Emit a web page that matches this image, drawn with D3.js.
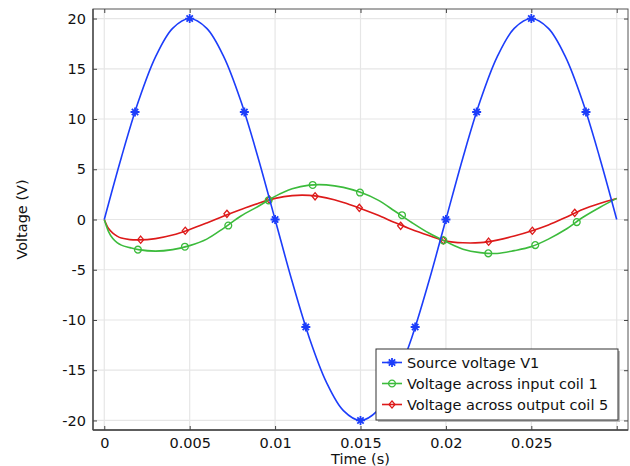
<!DOCTYPE html>
<html><head><meta charset="utf-8">
<script src="https://cdn.jsdelivr.net/npm/d3@7"></script>
<style>
html,body{margin:0;padding:0;background:#fff;}
svg{display:block;font-family:"DejaVu Sans",sans-serif;}
</style></head>
<body><svg id="chart" width="630" height="466"></svg>
<script>
// ---- data ----
const timeSource = [0,0.001,0.002,0.003,0.004,0.005,0.006,0.007,0.008,0.009,0.010,0.011,0.012,0.013,0.014,0.015,0.016,0.017,0.018,0.019,0.020,0.021,0.022,0.023,0.024,0.025,0.026,0.027,0.028,0.029,0.030];
const sourceVoltage = [0,6.18,11.76,16.18,19.02,20,19.02,16.18,11.76,6.18,0,-6.18,-11.76,-16.18,-19.02,-20,-19.02,-16.18,-11.76,-6.18,0,6.18,11.76,16.18,19.02,20,19.02,16.18,11.76,6.18,0];

const timeCoil = [0,0.00025,0.0005,0.00075,0.001,0.0015,0.002,0.003,0.004,0.005,0.006,0.007,0.008,0.009,0.010,0.011,0.012,0.013,0.014,0.015,0.016,0.017,0.018,0.019,0.020,0.021,0.022,0.023,0.024,0.025,0.026,0.027,0.028,0.029,0.030];
const inputCoil = [0,-1.2,-1.9,-2.3,-2.55,-2.8,-3.0,-3.15,-3.0,-2.6,-1.95,-0.85,0.35,1.3,2.3,3.05,3.42,3.45,3.2,2.7,1.95,0.85,-0.3,-1.35,-2.2,-2.95,-3.3,-3.38,-3.1,-2.7,-1.95,-1.0,0.2,1.2,2.1];
const outputCoil = [0,-0.9,-1.35,-1.65,-1.85,-2.0,-2.03,-1.9,-1.55,-1.0,-0.35,0.35,1.0,1.6,2.1,2.38,2.4,2.15,1.7,1.1,0.45,-0.3,-1.0,-1.6,-2.15,-2.32,-2.3,-2.05,-1.65,-1.15,-0.55,0.2,1.0,1.6,2.1];

// marker positions
const sourceMarkT = [0.0018,0.005,0.0082,0.01,0.0118,0.015,0.0182,0.02,0.0218,0.025,0.0282];
const sourceMarkV = [10.7,20,10.7,0,-10.7,-20,-10.7,0,10.7,20,10.7];
const inputMarkT = [0.00197,0.00472,0.00726,0.00962,0.0122,0.01497,0.01743,0.01985,0.02248,0.02523,0.02766];
const inputMarkV = [-3.0,-2.71,-0.6,1.9,3.44,2.68,0.43,-2.08,-3.37,-2.55,-0.26];
const outputMarkT = [0.00213,0.00474,0.00718,0.00966,0.01234,0.01493,0.01735,0.01985,0.0225,0.02506,0.02754];
const outputMarkV = [-2.01,-1.12,0.56,1.98,2.31,1.16,-0.63,-2.08,-2.21,-1.12,0.66];

const seriesNames = ["Source voltage V1","Voltage across input coil 1","Voltage across output coil 5"];
const xTicks = [0,0.005,0.01,0.015,0.02,0.025,0.03];
const xTickLabels = ["0","0.005","0.01","0.015","0.02","0.025",""];
const yTicks = [-20,-15,-10,-5,0,5,10,15,20];
const yTickLabels = ["-20","-15","-10","-5","0","5","10","15","20"];
const xTitle = "Time (s)";
const yTitle = "Voltage (V)";

// ---- layout ----
const W = 630, H = 466;
const L = 93, R = 628, T = 9, B = 430;
const colors = ["#1c3dfa","#3cbb3c","#dd1a1a"];
const fontSize = 14.5;

const svg = d3.select("#chart");
const x = d3.scaleLinear().domain([-0.00066, 0.03066]).range([L, R]);
const y = d3.scaleLinear().domain([-20.95, 20.95]).range([B, T]);

// grid
const g = svg.append("g");
g.selectAll("line.gx").data(xTicks).join("line")
  .attr("x1", d => x(d)).attr("x2", d => x(d)).attr("y1", T).attr("y2", B)
  .attr("stroke", "#e6e6e6").attr("stroke-width", 1.2);
g.selectAll("line.gy").data(yTicks).join("line")
  .attr("y1", d => y(d)).attr("y2", d => y(d)).attr("x1", L).attr("x2", R)
  .attr("stroke", "#e6e6e6").attr("stroke-width", 1.2);

// clip
svg.append("clipPath").attr("id","clip").append("rect")
  .attr("x", L).attr("y", T).attr("width", R - L).attr("height", B - T);
const plot = svg.append("g").attr("clip-path","url(#clip)");

const line = d3.line().x(d => x(d[0])).y(d => y(d[1])).curve(d3.curveCatmullRom.alpha(0.5));
const series = [
  {t: timeSource, v: sourceVoltage, mt: sourceMarkT, mv: sourceMarkV, shape: "star"},
  {t: timeCoil, v: inputCoil, mt: inputMarkT, mv: inputMarkV, shape: "circle"},
  {t: timeCoil, v: outputCoil, mt: outputMarkT, mv: outputMarkV, shape: "diamond"}
];

function markerPath(shape){
  if (shape === "star") {
    const r = 4.5, p = [];
    for (let k = 0; k < 4; k++) {
      const a = k * Math.PI / 4;
      p.push(`M${-r*Math.cos(a)},${-r*Math.sin(a)}L${r*Math.cos(a)},${r*Math.sin(a)}`);
    }
    return p.join("");
  }
  if (shape === "circle") return d3.arc()({innerRadius:0, outerRadius:3.4, startAngle:0, endAngle:2*Math.PI});
  return "M0,-3.6L3,0L0,3.6L-3,0Z";
}

// draw order: red first? keep green on top of red like reference
[2,1,0].forEach(i => {
  const s = series[i];
  plot.append("path")
    .datum(s.t.map((t, j) => [t, s.v[j]]))
    .attr("d", line).attr("fill","none")
    .attr("stroke", colors[i]).attr("stroke-width", 1.6);
  plot.selectAll(null).data(s.mt.map((t, j) => [t, s.mv[j]])).join("path")
    .attr("transform", d => `translate(${x(d[0])},${y(d[1])})`)
    .attr("d", markerPath(s.shape))
    .attr("fill", "none")
    .attr("stroke", colors[i]).attr("stroke-width", s.shape === "star" ? 1.8 : 1.3);
});

// frame
svg.append("rect").attr("x", L).attr("y", T).attr("width", R - L).attr("height", B - T)
  .attr("fill","none").attr("stroke","#555").attr("stroke-width",1);
svg.append("line").attr("x1",L).attr("x2",L).attr("y1",T).attr("y2",B).attr("stroke","#444").attr("stroke-width",1.3);
svg.append("line").attr("x1",L).attr("x2",R).attr("y1",B).attr("y2",B).attr("stroke","#444").attr("stroke-width",1.3);

// axes (ticks inward)
const tk = 4;
const xb = d3.axisBottom(x).tickValues(xTicks).tickSize(-tk).tickPadding(8).tickFormat((d,i) => xTickLabels[i]);
const xt = d3.axisTop(x).tickValues(xTicks).tickSize(-tk).tickFormat("");
const yl = d3.axisLeft(y).tickValues(yTicks).tickSize(-tk).tickPadding(7).tickFormat((d,i) => yTickLabels[i]);
const yr = d3.axisRight(y).tickValues(yTicks).tickSize(-tk).tickFormat("");
function style(sel){
  sel.select(".domain").remove();
  sel.selectAll(".tick line").attr("stroke","#444");
  sel.selectAll(".tick text").attr("fill","#111").style("font-size", fontSize + "px").style("font-family","DejaVu Sans");
}
svg.append("g").attr("transform",`translate(0,${B})`).call(xb).call(style);
svg.append("g").attr("transform",`translate(0,${T})`).call(xt).call(style);
svg.append("g").attr("transform",`translate(${L},0)`).call(yl).call(style);
svg.append("g").attr("transform",`translate(${R},0)`).call(yr).call(style);

// titles
svg.append("text").attr("x", (L + R) / 2).attr("y", 464).attr("text-anchor","middle")
  .style("font-size", fontSize + "px").attr("fill","#111").text(xTitle);
svg.append("text").attr("transform",`translate(27,${(T + B) / 2}) rotate(-90)`).attr("text-anchor","middle")
  .style("font-size", fontSize + "px").attr("fill","#111").text(yTitle);

// legend
const lg = svg.append("g");
const lx = 376, ly = 349, lw = 242, lh = 71;
lg.append("rect").attr("x", lx + 2).attr("y", ly + 2).attr("width", lw).attr("height", lh).attr("fill","#bbb");
lg.append("rect").attr("x", lx).attr("y", ly).attr("width", lw).attr("height", lh).attr("fill","#fff").attr("stroke","#333").attr("stroke-width",1);
seriesNames.forEach((name, i) => {
  const cy = ly + 13.5 + i * 21;
  lg.append("line").attr("x1", lx + 6).attr("x2", lx + 26).attr("y1", cy).attr("y2", cy)
    .attr("stroke", colors[i]).attr("stroke-width", 1.6);
  lg.append("path").attr("transform", `translate(${lx + 16},${cy})`).attr("d", markerPath(series[i].shape))
    .attr("fill","none").attr("stroke", colors[i]).attr("stroke-width", series[i].shape === "star" ? 1.8 : 1.3);
  lg.append("text").attr("x", lx + 31).attr("y", cy + 5.2).style("font-size", fontSize + "px").attr("fill","#111").text(name);
});
</script>
</body></html>
